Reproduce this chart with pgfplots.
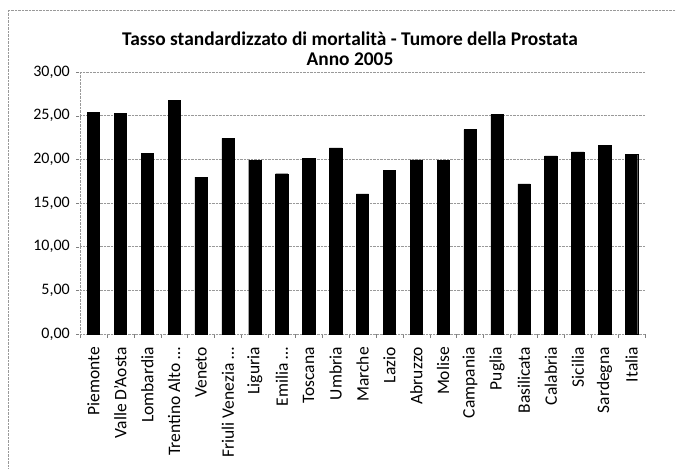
\documentclass[border=0pt]{standalone}
\usepackage{pgfplots}
\pgfplotsset{compat=1.18}
\usepackage{fontspec}
\setmainfont{Carlito}
\begin{document}
\begin{tikzpicture}
\path[use as bounding box] (0,0) rectangle (676pt,468pt);
\draw[densely dotted, gray!80] (8pt,0pt) -- (8pt,458pt) -- (676pt,458pt);
\node[font=\fontsize{19.4}{21}\selectfont\bfseries] at (350pt,429pt) {Tasso standardizzato di mortalità - Tumore della Prostata};
\node[font=\fontsize{19.4}{21}\selectfont\bfseries] at (350pt,409pt) {Anno 2005};
\begin{axis}[
  at={(80pt,134pt)}, anchor=south west,
  scale only axis, width=565pt, height=262pt,
  xmin=-0.5, xmax=20.5, ymin=0, ymax=30,
  ytick={0,5,...,30},
  xtick={0,...,20},
  minor xtick={-0.5,0.5,...,20.5},
  xticklabels={Piemonte,Valle D'Aosta,Lombardia,Trentino Alto …,Veneto,Friuli Venezia …,Liguria,Emilia …,Toscana,Umbria,Marche,Lazio,Abruzzo,Molise,Campania,Puglia,Basilicata,Calabria,Sicilia,Sardegna,Italia},
  xticklabel style={rotate=90, anchor=east, font=\fontsize{17.5}{19}\selectfont, inner sep=1pt, xshift=-8pt},
  yticklabel style={font=\fontsize{16}{18}\selectfont, inner sep=2pt, xshift=-4pt},
  /pgf/number format/.cd, assume math mode=true, use comma, fixed, fixed zerofill, precision=2, 1000 sep={},
  /pgfplots/.cd,
  axis x line*=bottom, axis y line*=left,
  axis line style={densely dotted, gray!80, -},
  tick align=outside,
  major x tick style={draw=none},
  minor x tick style={gray, line width=0.4pt},
  minor tick length=4pt,
  major tick length=4pt,
  ytick style={gray, densely dotted},
  ymajorgrids,
  major grid style={densely dotted, gray!80},
  ybar, bar width=12.3pt,
  enlargelimits=false,
]
\addplot[fill=black, draw=black] coordinates {
(0,25.38) (1,25.25) (2,20.65) (3,26.72) (4,17.95) (5,22.40) (6,19.92) (7,18.35) (8,20.10) (9,21.30) (10,16.05) (11,18.70) (12,19.95) (13,19.90) (14,23.40) (15,25.15) (16,17.20) (17,20.40) (18,20.85) (19,21.60) (20,20.55)
};
\end{axis}
\end{tikzpicture}
\end{document}
